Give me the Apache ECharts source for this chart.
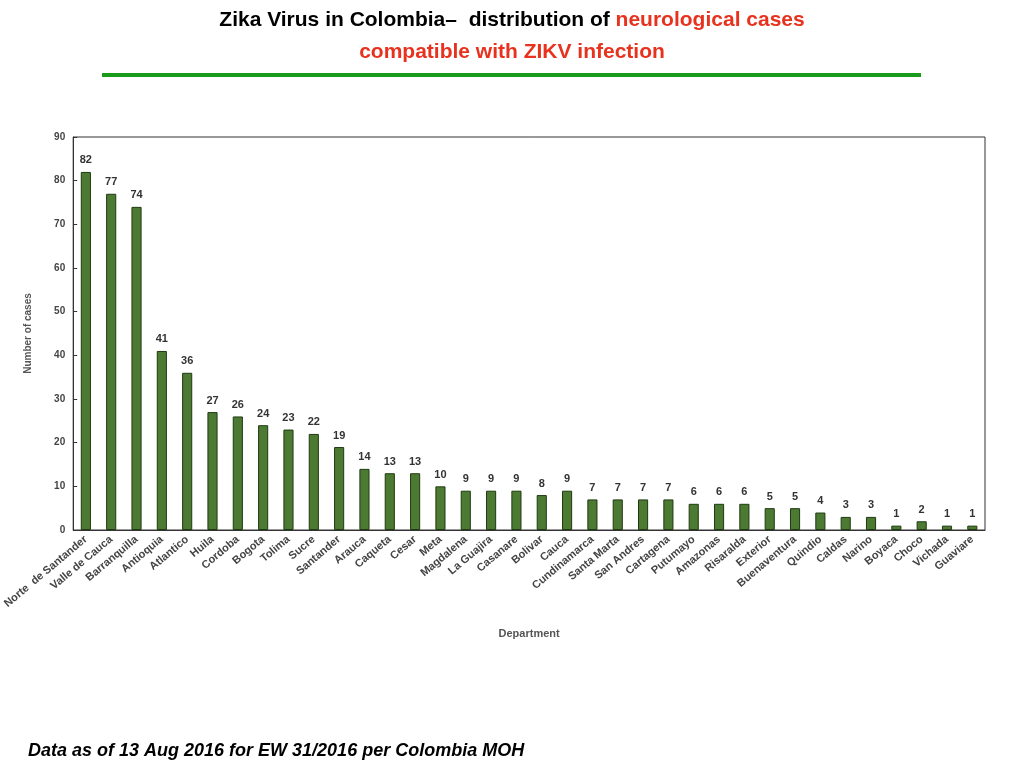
<!DOCTYPE html>
<html><head><meta charset="utf-8">
<script src="https://cdn.jsdelivr.net/npm/echarts@6/dist/echarts.min.js"></script>
<style>html,body{margin:0;padding:0;background:#fff}#c{width:1024px;height:768px}</style>
</head><body><div id="c"></div>
<script>
const departments = ['Norte  de Santander','Valle de Cauca','Barranquilla','Antioquia','Atlantico','Huila','Cordoba','Bogota','Tolima','Sucre','Santander','Arauca','Caqueta','Cesar','Meta','Magdalena','La Guajira','Casanare','Bolivar','Cauca','Cundinamarca','Santa Marta','San Andres','Cartagena','Putumayo','Amazonas','Risaralda','Exterior','Buenaventura','Quindio','Caldas','Narino','Boyaca','Choco','Vichada','Guaviare'];
const cases = [82,77,74,41,36,27,26,24,23,22,19,14,13,13,10,9,9,9,8,9,7,7,7,7,6,6,6,5,5,4,3,3,1,2,1,1];
const yTicks = [0,10,20,30,40,50,60,70,80,90];

const chart = echarts.init(document.getElementById('c'));
chart.setOption({
  animation: false,
  graphic: [
    { type: 'text', left: 'center', top: 10, style: { rich: { a: { fontSize: 21, fontWeight: 'bold', fill: '#000', fontFamily: 'Liberation Sans' }, r: { fontSize: 21, fontWeight: 'bold', fill: '#e8321e', fontFamily: 'Liberation Sans' } }, text: '{a|Zika Virus in Colombia–  distribution of }{r|neurological cases}' } },
    { type: 'text', left: 'center', top: 42, style: { text: 'compatible with ZIKV infection', fontSize: 21, fontWeight: 'bold', fill: '#e8321e', fontFamily: 'Liberation Sans' } },
    { type: 'rect', shape: { x: 102, y: 73, width: 819, height: 4 }, style: { fill: '#1a9a1a' } },
    { type: 'text', left: 28, top: 742, style: { text: 'Data as of 13 Aug 2016 for EW 31/2016 per Colombia MOH', fontSize: 18, fontWeight: 'bold', fontStyle: 'italic', fill: '#000', fontFamily: 'Liberation Sans' } }
  ],
  grid: { left: 70, right: 39, top: 137, bottom: 238, show: true, borderColor: '#333', borderWidth: 1 },
  xAxis: {
    type: 'category', data: departments,
    name: 'Department', nameLocation: 'middle', nameGap: 98,
    nameTextStyle: { fontSize: 11, fontWeight: 'bold', color: '#555' },
    axisTick: { show: false },
    axisLine: { lineStyle: { color: '#333' } },
    axisLabel: { interval: 0, rotate: 40, fontSize: 11, fontWeight: 'bold', color: '#444', margin: 8 }
  },
  yAxis: {
    type: 'value', min: 0, max: 90, interval: 10,
    name: 'Number of cases', nameLocation: 'middle', nameGap: 40,
    nameTextStyle: { fontSize: 10, fontWeight: 'bold', color: '#555' },
    splitLine: { show: false },
    axisLine: { show: true, lineStyle: { color: '#333' } },
    axisTick: { show: true, inside: true, length: 4 },
    axisLabel: { fontSize: 10, fontWeight: 'bold', color: '#444', formatter: v => yTicks.includes(v) ? v : '' }
  },
  series: [{
    type: 'bar', data: cases, barWidth: '40%',
    itemStyle: { color: '#4d7a32', borderColor: '#1f3a10', borderWidth: 1 },
    label: { show: true, position: 'top', fontSize: 11, fontWeight: 'bold', color: '#333', distance: 6 }
  }]
});
</script></body></html>
